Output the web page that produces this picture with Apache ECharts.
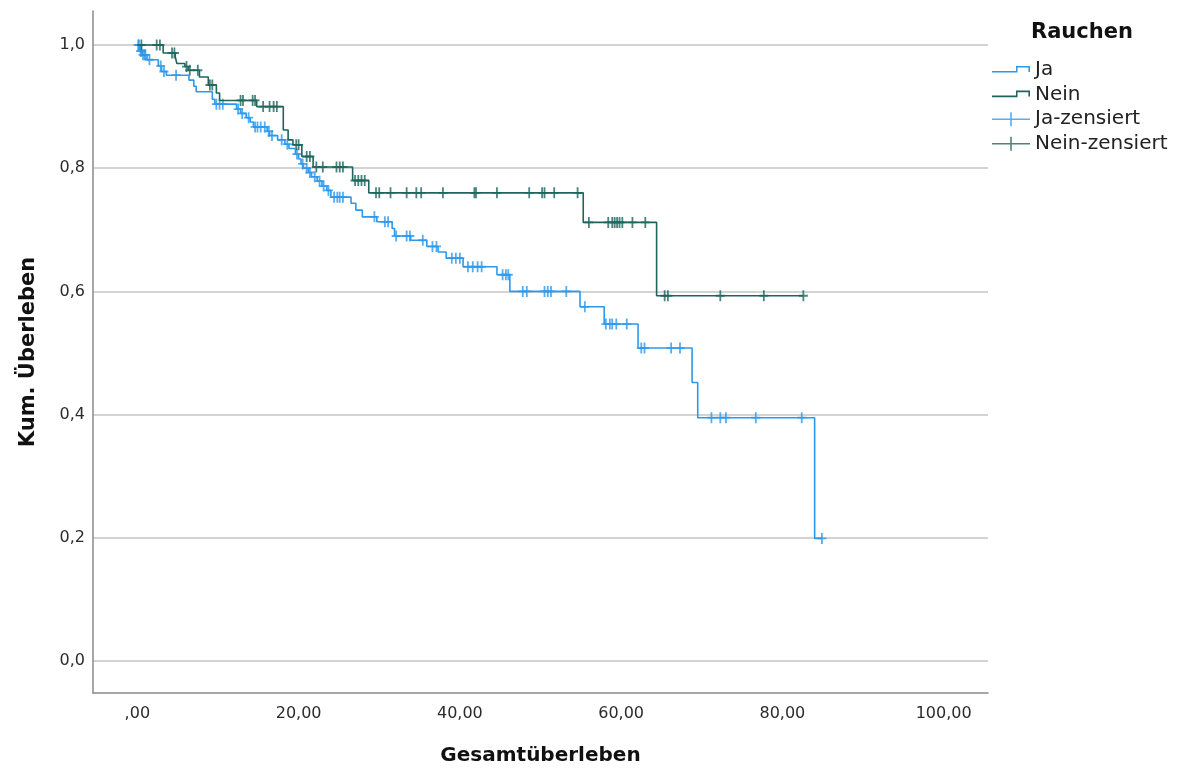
<!DOCTYPE html>
<html>
<head>
<meta charset="utf-8">
<title>Kaplan-Meier: Rauchen</title>
<script src="https://cdn.jsdelivr.net/npm/echarts@6/dist/echarts.min.js"></script>
<style>
  html, body { margin: 0; padding: 0; background: #fff; }
  #chart { width: 1182px; height: 771px; }
</style>
</head>
<body>
<div id="chart"></div>
<script>
// Group "Ja": event times and survival after each event
const jaEventTimes = [0.3, 0.6, 1.2, 2.6, 3.0, 3.6, 6.4, 7.0, 7.3, 9.3, 9.6, 12.3, 12.8, 13.5, 14.0, 14.4,
  16.1, 16.4, 17.4, 18.3, 18.8, 19.6, 20.0, 20.3, 20.6, 21.2, 21.6, 22.3, 22.9, 23.5, 24.0, 26.5, 27.1,
  27.9, 29.7, 31.6, 31.9, 33.9, 35.9, 37.3, 38.3, 40.4, 44.6, 46.2, 54.9, 57.9, 62.1, 68.8, 69.5, 84.0];
const jaSurvival = [0.990, 0.984, 0.976, 0.966, 0.957, 0.951, 0.943, 0.933, 0.924, 0.912, 0.904, 0.896,
  0.889, 0.882, 0.875, 0.867, 0.860, 0.853, 0.846, 0.839, 0.832, 0.823, 0.815, 0.807, 0.800, 0.793, 0.786,
  0.779, 0.771, 0.764, 0.753, 0.743, 0.732, 0.721, 0.713, 0.702, 0.690, 0.683, 0.673, 0.664, 0.654, 0.640,
  0.627, 0.600, 0.575, 0.547, 0.508, 0.452, 0.395, 0.199];
// Group "Ja": censored observation times
const jaCensorTimes = [0.1, 0.2, 0.4, 0.5, 0.7, 0.9, 1.0, 1.5, 2.9, 3.3, 4.8, 9.8, 10.2, 10.6, 12.5, 13.0,
  13.8, 14.6, 14.9, 15.3, 15.8, 16.3, 16.7, 17.9, 18.6, 19.8, 20.5, 21.0, 21.4, 22.0, 22.6, 23.1, 23.7, 24.4,
  24.8, 25.1, 25.5, 29.4, 30.7, 31.1, 32.1, 33.4, 33.8, 35.4, 36.6, 37.1, 39.0, 39.5, 40.0, 41.0, 41.6, 42.2,
  42.7, 45.3, 45.7, 46.0, 47.8, 48.3, 50.5, 50.9, 51.3, 53.2, 55.5, 58.1, 58.6, 58.9, 59.4, 60.7, 62.5, 62.9,
  66.2, 67.3, 71.2, 72.3, 73.0, 76.7, 82.4, 84.9];

// Group "Nein"
const neinEventTimes = [3.2, 4.7, 4.9, 5.9, 6.3, 7.7, 8.8, 9.8, 10.2, 14.8, 18.1, 18.7, 19.3, 20.4, 21.8,
  26.7, 28.7, 55.3, 64.4];
const neinSurvival = [0.987, 0.981, 0.970, 0.965, 0.959, 0.948, 0.935, 0.922, 0.910, 0.900, 0.862, 0.846,
  0.838, 0.819, 0.802, 0.780, 0.760, 0.712, 0.593];
const neinCensorTimes = [0.5, 2.4, 2.8, 4.3, 4.6, 6.1, 6.5, 7.5, 9.0, 9.3, 12.8, 13.1, 14.3, 14.6, 15.6,
  16.4, 16.9, 17.3, 19.7, 20.0, 21.0, 21.4, 22.2, 23.0, 24.7, 25.1, 25.5, 27.0, 27.4, 27.8, 28.2, 29.6, 30.0,
  31.4, 33.4, 34.6, 35.2, 37.9, 41.8, 42.0, 44.6, 48.6, 50.2, 50.5, 51.7, 54.6, 56.0, 58.4, 58.9, 59.2, 59.5,
  59.8, 60.15, 61.4, 63.0, 65.4, 65.8, 72.3, 77.7, 82.6];

// Axis ticks and labels
const xTickValues = [0, 20, 40, 60, 80, 100];
const xTickLabels = [',00', '20,00', '40,00', '60,00', '80,00', '100,00'];
const yTickValues = [0, 0.2, 0.4, 0.6, 0.8, 1.0];
const yTickLabels = ['0,0', '0,2', '0,4', '0,6', '0,8', '1,0'];

const groupNames = ['Ja', 'Nein'];
const censorNames = ['Ja-zensiert', 'Nein-zensiert'];
const colors = { Ja: '#2C99EC', Nein: '#1E655E' };

// survival value of the step function at time t
function survivalAt(times, surv, t) {
  let s = 1;
  for (let i = 0; i < times.length; i++) {
    if (times[i] <= t) s = surv[i];
  }
  return s;
}

function stepLine(times, surv, censors) {
  const pts = [[0, 1]];
  times.forEach((t, i) => pts.push([t, surv[i]]));
  const end = Math.max(times[times.length - 1], censors[censors.length - 1]);
  pts.push([end, surv[surv.length - 1]]);
  return pts;
}

function censorPoints(times, surv, censors) {
  return censors.map(t => [t, survivalAt(times, surv, t)]);
}

const jaLine = stepLine(jaEventTimes, jaSurvival, jaCensorTimes);
const neinLine = stepLine(neinEventTimes, neinSurvival, neinCensorTimes);
const jaCensor = censorPoints(jaEventTimes, jaSurvival, jaCensorTimes);
const neinCensor = censorPoints(neinEventTimes, neinSurvival, neinCensorTimes);

// plus-shaped censor mark (filled outline, 10 x 12 box)
const plusMark = 'path://M4,0h2v5h4v2h-4v5h-2v-5h-4v-2h4z';
const stepIcon = 'path://M0,0L0,0M38,14L38,14M0,8H25.5V9.6H0ZM24,3H25.5V9.6H24ZM24,3H38V4.6H24ZM36.4,3H38V9H36.4Z';
const plusIcon = 'path://M0,0L0,0M38,14L38,14M0,6.2H38V7.8H0ZM18.2,0H19.8V14H18.2Z';

const FONT = 'DejaVu Sans';
const xMin = -5.5, xMax = 105.5;
const plotLeft = 93, plotRight = 988, plotTop = 11, plotBottom = 694;
const zeroY = 661, oneY = 45;
const pxPerX = (plotRight - plotLeft) / (xMax - xMin);
const x0px = plotLeft + (0 - xMin) * pxPerX;
const x100px = plotLeft + (100 - xMin) * pxPerX;

const chart = echarts.init(document.getElementById('chart'), null, { renderer: 'canvas' });

const option = {
  animation: false,
  backgroundColor: '#ffffff',
  title: {
    text: 'Rauchen',
    left: 1031,
    top: 22,
    padding: 0,
    textStyle: { fontFamily: FONT, fontWeight: 'bold', fontSize: 21, color: '#111' }
  },
  legend: {
    orient: 'vertical',
    left: 992,
    top: 60,
    padding: 0,
    itemWidth: 38,
    itemHeight: 14,
    itemGap: 4.6,
    selectedMode: false,
    itemStyle: { borderWidth: 0 },
    textStyle: { fontFamily: FONT, fontSize: 20, color: '#222' },
    data: [
      { name: groupNames[0], icon: stepIcon },
      { name: groupNames[1], icon: stepIcon },
      { name: censorNames[0], icon: plusIcon },
      { name: censorNames[1], icon: plusIcon }
    ]
  },
  grid: [
    // data area, y from 0 to 1
    { left: plotLeft, top: oneY, width: plotRight - plotLeft, height: zeroY - oneY },
    // x tick labels 0..100
    { left: x0px, top: plotTop, width: x100px - x0px, height: plotBottom - plotTop },
    // frame with axis lines and titles
    { left: plotLeft, top: plotTop, width: plotRight - plotLeft, height: plotBottom - plotTop }
  ],
  xAxis: [
    {
      gridIndex: 0, type: 'value', min: xMin, max: xMax,
      axisLine: { show: false }, axisTick: { show: false },
      axisLabel: { show: false }, splitLine: { show: false }
    },
    {
      gridIndex: 1, type: 'value', min: 0, max: 100, interval: 20,
      axisLine: { show: false }, axisTick: { show: false }, splitLine: { show: false },
      axisLabel: {
        margin: 12, fontFamily: FONT, fontSize: 16, color: '#2b2b2b',
        formatter: v => xTickLabels[xTickValues.indexOf(v)]
      }
    },
    {
      gridIndex: 2, type: 'value', min: 0, max: 1,
      axisLine: { show: true, lineStyle: { color: '#8a8a8a', width: 1.5 } },
      axisTick: { show: false }, axisLabel: { show: false }, splitLine: { show: false },
      name: 'Gesamtüberleben', nameLocation: 'middle', nameGap: 53,
      nameTextStyle: { fontFamily: FONT, fontWeight: 'bold', fontSize: 20, color: '#111' }
    }
  ],
  yAxis: [
    {
      gridIndex: 0, type: 'value', min: 0, max: 1, interval: 0.2,
      axisLine: { show: false }, axisTick: { show: false },
      splitLine: { show: true, lineStyle: { color: '#c4c4c4', width: 1.5 } },
      axisLabel: {
        margin: 8, fontFamily: FONT, fontSize: 16, color: '#2b2b2b',
        formatter: v => {
          const i = yTickValues.findIndex(t => Math.abs(t - v) < 1e-9);
          return i >= 0 ? yTickLabels[i] : '';
        }
      }
    },
    {
      gridIndex: 1, type: 'value', min: 0, max: 1, show: false
    },
    {
      gridIndex: 2, type: 'value', min: 0, max: 1,
      axisLine: { show: true, lineStyle: { color: '#8a8a8a', width: 1.5 } },
      axisTick: { show: false }, axisLabel: { show: false }, splitLine: { show: false },
      name: 'Kum. Überleben', nameLocation: 'middle', nameGap: 54,
      nameTextStyle: { fontFamily: FONT, fontWeight: 'bold', fontSize: 21, color: '#111' }
    }
  ],
  series: [
    {
      name: groupNames[0], type: 'line', xAxisIndex: 0, yAxisIndex: 0,
      data: jaLine, step: 'end', symbol: 'none', clip: false,
      color: colors.Ja, lineStyle: { color: colors.Ja, width: 1.6 }
    },
    {
      name: groupNames[1], type: 'line', xAxisIndex: 0, yAxisIndex: 0,
      data: neinLine, step: 'end', symbol: 'none', clip: false,
      color: colors.Nein, lineStyle: { color: colors.Nein, width: 1.6 }
    },
    {
      name: censorNames[0], type: 'scatter', xAxisIndex: 0, yAxisIndex: 0,
      data: jaCensor, symbol: plusMark, symbolSize: [9, 11], clip: false,
      itemStyle: { color: colors.Ja }
    },
    {
      name: censorNames[1], type: 'scatter', xAxisIndex: 0, yAxisIndex: 0,
      data: neinCensor, symbol: plusMark, symbolSize: [9, 11], clip: false,
      itemStyle: { color: colors.Nein }
    }
  ]
};

chart.setOption(option);
</script>
</body>
</html>
